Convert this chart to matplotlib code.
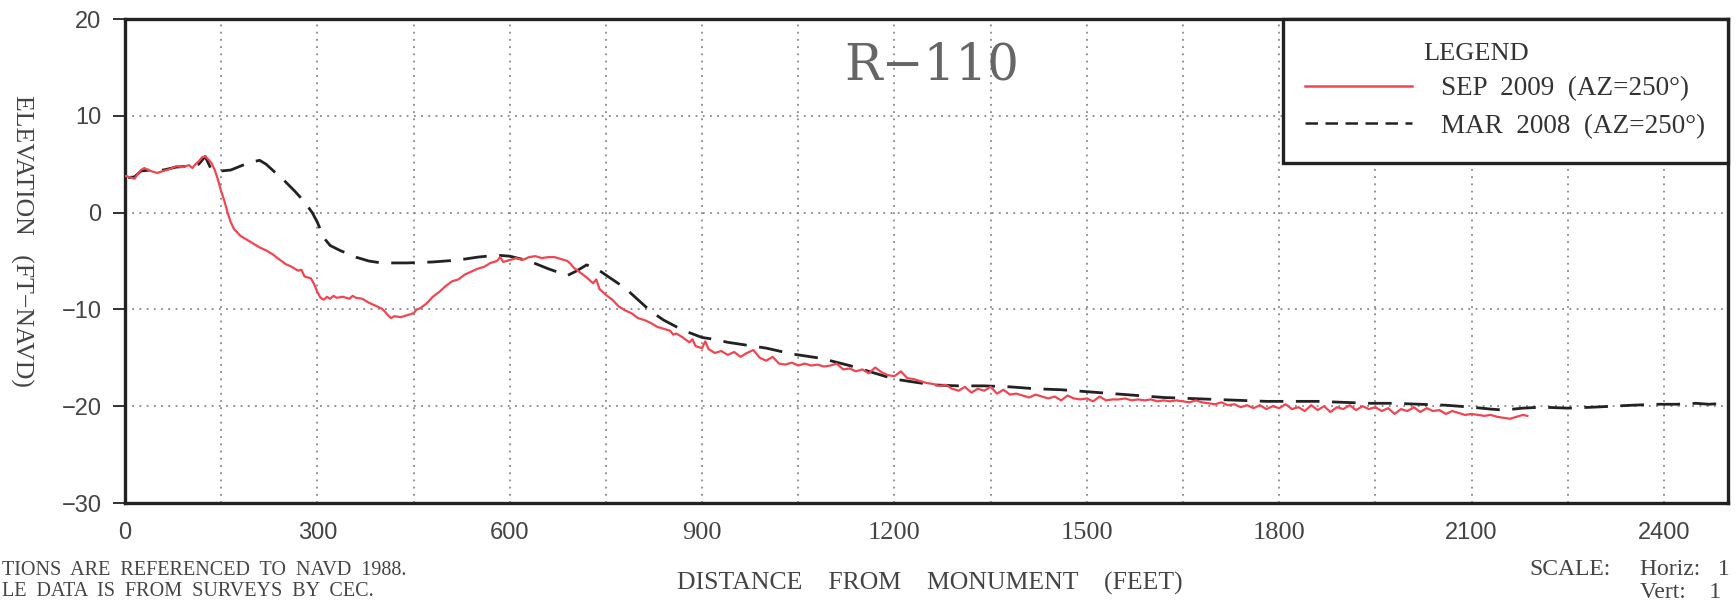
import matplotlib
matplotlib.use('Agg')
import matplotlib.pyplot as plt
from matplotlib.patches import Rectangle
from matplotlib.lines import Line2D

# ---------------- data ----------------
sep_x = [0, 5, 10, 15, 20, 25, 30, 40, 50, 60, 70, 80, 90, 100, 105, 110, 115, 120, 125, 130,
         135, 140, 145, 150, 155, 160, 165, 170, 180, 190, 200, 210, 220, 230, 240, 250, 260, 270,
         275, 280, 290, 295, 300, 305, 310, 315, 320, 325, 330, 340, 350, 355, 360, 370, 380, 390,
         400, 405, 410, 415, 420, 430, 440, 450, 455, 460, 470, 480, 490, 500, 510, 520, 530, 540,
         550, 560, 570, 580, 585, 590, 600, 610, 620, 630, 640, 650, 660, 670, 680, 690, 695, 700,
         710, 720, 730, 735, 740, 750, 760, 770, 780, 790, 800, 810, 820, 830, 840, 850, 855, 860,
         870, 880, 885, 890, 900, 905, 910, 920, 930, 940, 950, 960, 970, 980, 990, 1000, 1010,
         1020, 1030, 1040, 1050, 1060, 1070, 1080, 1090, 1100, 1110, 1120, 1130, 1140, 1150, 1160,
         1170, 1180, 1190, 1200, 1210, 1220, 1230, 1240, 1250, 1260, 1270, 1280, 1290, 1300, 1310,
         1320, 1330, 1340, 1350, 1360, 1370, 1380, 1390, 1400, 1410, 1420, 1430, 1440, 1450, 1460,
         1470, 1480, 1490, 1500, 1510, 1520, 1530, 1540, 1550, 1560, 1570, 1580, 1590, 1600, 1610,
         1620, 1630, 1640, 1650, 1660, 1670, 1680, 1690, 1700, 1710, 1720, 1730, 1740, 1750, 1760,
         1770, 1780, 1790, 1800, 1810, 1820, 1830, 1840, 1850, 1860, 1870, 1880, 1890, 1900, 1910,
         1920, 1930, 1940, 1950, 1960, 1970, 1980, 1990, 2000, 2010, 2020, 2030, 2040, 2050, 2060,
         2070, 2080, 2090, 2100, 2110, 2120, 2130, 2140, 2150, 2160, 2170, 2180, 2187]
sep_y = [3.8, 3.7, 3.6, 3.5, 4.0, 4.4, 4.6, 4.3, 4.1, 4.3, 4.5, 4.8, 4.7, 4.9, 4.6, 5.0, 5.3, 5.7, 5.8, 5.5,
         5.1, 4.4, 3.4, 2.2, 1.2, 0.0, -1.0, -1.7, -2.4, -2.8, -3.2, -3.6, -3.9, -4.3, -4.8, -5.3, -5.6, -6.0,
         -5.9, -6.6, -6.8, -7.4, -8.2, -8.8, -9.0, -8.7, -8.9, -8.6, -8.8, -8.7, -8.9, -8.6, -8.8, -8.9, -9.3, -9.6,
         -9.9, -10.2, -10.6, -10.9, -10.7, -10.8, -10.6, -10.4, -10.0, -9.9, -9.4, -8.7, -8.2, -7.6, -7.1, -6.9, -6.4, -6.1,
         -5.8, -5.6, -5.2, -5.0, -4.6, -5.1, -4.9, -4.7, -4.9, -4.6, -4.5, -4.7, -4.6, -4.6, -4.8, -5.0, -5.3, -5.7,
         -6.2, -6.7, -7.3, -6.9, -7.9, -8.5, -9.0, -9.7, -10.1, -10.4, -10.9, -11.1, -11.4, -11.8, -12.0, -12.2, -12.6, -12.5,
         -12.9, -13.4, -13.1, -13.8, -14.0, -13.3, -14.1, -14.5, -14.3, -14.7, -14.4, -14.9, -14.5, -14.2, -15.0, -15.3, -14.9,
         -15.6, -15.7, -15.5, -15.8, -15.6, -15.8, -15.7, -15.9, -15.8, -15.6, -16.2, -16.1, -16.4, -16.2, -16.6,
         -16.0, -16.5, -16.8, -16.9, -16.4, -17.1, -17.2, -17.4, -17.6, -17.7, -17.9, -17.8, -18.2, -18.4, -18.0,
         -18.6, -18.2, -18.4, -18.0, -18.7, -18.3, -18.8, -18.7, -18.9, -19.1, -18.8, -19.0, -19.2, -19.0, -19.4,
         -18.9, -19.2, -19.3, -19.2, -19.5, -19.0, -19.4, -19.3, -19.3, -19.2, -19.4, -19.3, -19.4, -19.3, -19.5,
         -19.4, -19.5, -19.4, -19.5, -19.6, -19.4, -19.6, -19.7, -19.8, -19.6, -19.9, -19.8, -20.1, -19.9, -20.2,
         -19.9, -20.3, -20.0, -20.2, -19.8, -20.3, -20.1, -20.5, -19.9, -20.4, -20.0, -20.6, -20.1, -20.3, -19.9,
         -20.4, -20.0, -20.3, -20.1, -20.5, -20.2, -20.8, -20.3, -20.5, -20.1, -20.6, -20.2, -20.5, -20.4, -20.8,
         -20.5, -20.7, -20.9, -20.8, -20.9, -21.0, -20.9, -21.1, -21.2, -21.3, -21.1, -20.9, -21.0]

mar_x = [5, 15, 25, 40, 60, 80, 100, 115, 125, 135, 150, 165, 180, 195, 210, 220, 235, 250, 265, 280,
         292, 300, 310, 320, 335, 360, 380, 400, 440, 480, 520, 550, 580, 600, 630, 660, 690, 705, 720,
         740, 760, 780, 800, 820, 840, 860, 880, 900, 920, 940, 970, 1000, 1040, 1080, 1100, 1130, 1160,
         1180, 1200, 1230, 1260, 1300, 1340, 1380, 1420, 1460, 1500, 1540, 1580, 1620, 1660, 1700, 1740,
         1780, 1820, 1860, 1900, 1940, 1980, 2020, 2060, 2100, 2130, 2150, 2180, 2210, 2250, 2290, 2320,
         2350, 2390, 2420, 2450, 2470, 2495]
mar_y = [3.6, 3.7, 4.3, 4.4, 4.4, 4.7, 4.8, 5.0, 5.8, 4.4, 4.3, 4.4, 4.8, 5.2, 5.4, 5.0, 4.1, 3.2, 2.2, 1.1,
         0.0, -1.0, -2.6, -3.4, -3.9, -4.6, -5.0, -5.2, -5.2, -5.1, -4.9, -4.6, -4.4, -4.5, -5.0, -5.8, -6.5, -6.0, -5.4,
         -6.0, -6.9, -7.8, -9.0, -10.2, -11.1, -11.8, -12.4, -12.9, -13.1, -13.4, -13.7, -14.0, -14.6, -15.0, -15.3, -15.8, -16.4,
         -16.8, -17.2, -17.5, -17.8, -17.9, -17.9, -18.0, -18.2, -18.3, -18.5, -18.7, -18.9, -19.1, -19.2, -19.3, -19.4,
         -19.5, -19.5, -19.5, -19.6, -19.7, -19.7, -19.8, -19.9, -20.1, -20.3, -20.4, -20.2, -20.1, -20.2, -20.1, -20.0,
         -19.9, -19.8, -19.8, -19.7, -19.8, -19.7]

series_labels = ["SEP  2009  (AZ=250\u00b0)", "MAR  2008  (AZ=250\u00b0)"]
x_ticks = [0, 300, 600, 900, 1200, 1500, 1800, 2100, 2400]
y_ticks = [-30, -20, -10, 0, 10, 20]
title = "R\u2212110"

# ---------------- figure ----------------
W, H = 1736, 600
fig = plt.figure(figsize=(W / 100, H / 100), dpi=100)
L, R, T, B = 125, 1728, 19, 503
ax = fig.add_axes([L / W, 1 - B / H, (R - L) / W, (B - T) / H])

RED = '#f04652'
ax.plot(sep_x, sep_y, color=RED, lw=1.6, zorder=3, solid_joinstyle='round')
ax.plot(mar_x, mar_y, color='#222222', lw=2.0, dashes=(8.5, 4.5), zorder=2)

ax.set_xlim(0, 2500)
ax.set_ylim(-30, 20)

grid_x = list(range(0, 2401, 150))
ax.set_xticks(grid_x)
ax.set_xticklabels([str(v) if v in x_ticks else '' for v in grid_x])
ax.set_yticks(y_ticks)
ax.set_yticklabels([('\u2212' + str(-v)) if v < 0 else str(v) for v in y_ticks])

ax.grid(True, color='#888888', linestyle=(0, (1, 3)), lw=1.3, zorder=1)
for s in ax.spines.values():
    s.set_linewidth(2.4)
    s.set_color('#222222')

ax.tick_params(axis='x', length=0, pad=14, labelsize=17, labelcolor='#444444')
ax.tick_params(axis='y', length=9, width=1.4, color='#333333', direction='out', pad=8,
               labelsize=17, labelcolor='#444444')
sans_x = {'0', '300', '600', '2100', '2400'}
for lab in ax.get_xticklabels():
    if lab.get_text() in sans_x:
        lab.set_family('Liberation Sans')
    else:
        lab.set_family('Liberation Serif')
        lab.set_fontsize(19)
for lab in ax.get_yticklabels():
    lab.set_family('Liberation Sans')

# legend box (manual, to match the drawing)
lx0 = (1283 - L) / (R - L)
ly0 = 1 - (163 - T) / (B - T)
ax.add_patch(Rectangle((lx0, ly0), 1 - lx0, 1 - ly0, transform=ax.transAxes,
                       facecolor='white', edgecolor='#222222', lw=2.4, zorder=4, clip_on=False))


def fx(px):
    return px / W


def fy(py):
    return 1 - py / H


serif = 'Liberation Serif'
fig.text(fx(1476), fy(60), "LEGEND", fontsize=19, family=serif, color='#333333',
         ha='center', va='baseline', zorder=6)
ax.add_line(Line2D([fx(1305), fx(1412)], [fy(86), fy(86)], transform=fig.transFigure,
                   color=RED, lw=1.8, zorder=6, clip_on=False))
ax.add_line(Line2D([fx(1305), fx(1412)], [fy(123), fy(123)], transform=fig.transFigure,
                   color='#222222', lw=1.8, dashes=(5, 3), zorder=6, clip_on=False))
fig.text(fx(1441), fy(95), series_labels[0], fontsize=19.5, family=serif, color='#333333',
         ha='left', va='baseline', zorder=6)
fig.text(fx(1441), fy(133), series_labels[1], fontsize=19.5, family=serif, color='#333333',
         ha='left', va='baseline', zorder=6)

# title
fig.text(fx(932), fy(80), title, fontsize=36, family='DejaVu Serif', color='#666666',
         ha='center', va='baseline', fontweight='light')

# axis labels
fig.text(fx(930), fy(590), "DISTANCE    FROM    MONUMENT    (FEET)", fontsize=18.5,
         family=serif, color='#444444', ha='center', va='baseline')
fig.text(fx(22), fy(241), "ELEVATION   (FT\u2212NAVD)", fontsize=18.5, family=serif,
         color='#444444', ha='center', va='center', rotation=-90)

# notes
fig.text(fx(2), fy(575), "TIONS  ARE  REFERENCED  TO  NAVD  1988.", fontsize=14.5,
         family=serif, color='#444444', ha='left', va='baseline')
fig.text(fx(2), fy(596), "LE  DATA  IS  FROM  SURVEYS  BY  CEC.", fontsize=14.5,
         family=serif, color='#444444', ha='left', va='baseline')
fig.text(fx(1529), fy(575), "SCALE:", fontsize=17, family=serif, color='#444444',
         ha='left', va='baseline')
fig.text(fx(1640), fy(575), "Horiz:   1", fontsize=17, family=serif, color='#444444',
         ha='left', va='baseline')
fig.text(fx(1640), fy(598), "Vert:    1", fontsize=17, family=serif, color='#444444',
         ha='left', va='baseline')

fig.savefig('out.png', dpi=100, facecolor='white')
